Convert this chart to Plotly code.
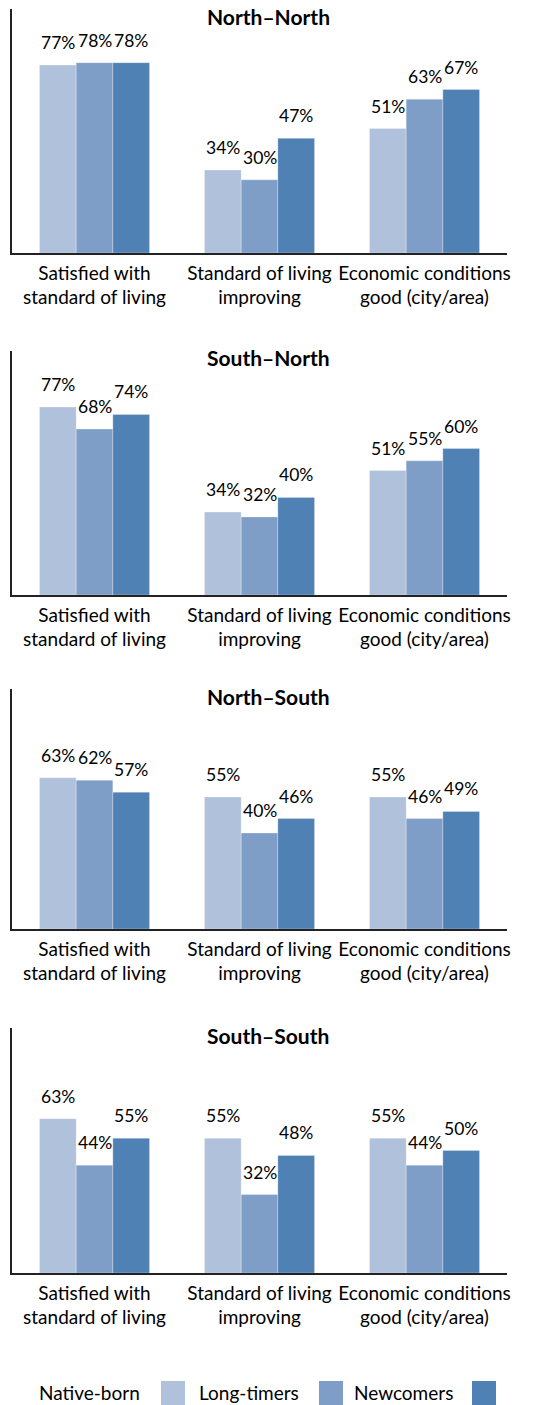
import plotly.graph_objects as go

# Data
categories = ["Satisfied with<br>standard of living",
              "Standard of living<br>improving",
              "Economic conditions<br>good (city/area)"]
panels = ["North\u2013North", "South\u2013North", "North\u2013South", "South\u2013South"]
groups = ["Native-born", "Long-timers", "Newcomers"]

native_born = [[77, 34, 51], [77, 34, 51], [63, 55, 55], [63, 55, 55]]
long_timers = [[78, 30, 63], [68, 32, 55], [62, 40, 46], [44, 32, 44]]
newcomers = [[78, 47, 67], [74, 40, 60], [57, 46, 49], [55, 48, 50]]

colors = ["#B0C1DC", "#7F9EC7", "#4F81B5"]

W, H = 542, 1405
L, R = 12, 35
FONT = "Lato"
BARGAP = 0.333

# pixel layout of each panel (top of y axis, baseline)
tops = [9, 351, 689, 1028]
bottoms = [253, 595, 929, 1273]


def py(p):
    return 1 - p / H


def px(p):
    return (p - L) / (W - L - R)


fig = go.Figure()
annotations = []
shapes = []
bar_w = (1 - BARGAP) / 3  # width of one bar in category units

for i, name in enumerate(panels):
    n = "" if i == 0 else str(i + 1)
    series = [native_born[i], long_timers[i], newcomers[i]]
    for g, vals in enumerate(series):
        fig.add_trace(go.Bar(
            x=categories, y=vals, name=groups[g],
            marker=dict(color=colors[g], line=dict(width=0.8, color="rgba(255,255,255,0.35)")),
            xaxis="x" + n, yaxis="y" + n, showlegend=False, hoverinfo="skip",
        ))
        # value labels sit a little higher above the bars than plotly's outside text
        for c, v in enumerate(vals):
            annotations.append(dict(
                text=f"{v}%", x=c + (g - 1) * bar_w, y=v, xref="x" + n, yref="y" + n,
                xanchor="center", yanchor="bottom", yshift=10, showarrow=False,
                font=dict(family=FONT, size=17.5, color="#000"),
            ))
    fig.layout["xaxis" + n] = dict(
        domain=[0, 1], anchor="y" + n, showline=True, linecolor="#222", linewidth=1.5,
        ticks="", showgrid=False, tickfont=dict(family=FONT, size=19, color="#000"),
        ticklabelstandoff=2, fixedrange=True,
    )
    fig.layout["yaxis" + n] = dict(
        domain=[py(bottoms[i]), py(tops[i])], anchor="x" + n, range=[0, 100],
        showline=True, linecolor="#222", linewidth=1.5, showgrid=False,
        showticklabels=False, ticks="", zeroline=False, fixedrange=True,
    )
    annotations.append(dict(
        text=f"<b>{name}</b>", x=px(268), y=py(tops[i] + 7), xref="paper", yref="paper",
        xanchor="center", yanchor="middle", showarrow=False,
        font=dict(family=FONT, size=21, color="#000"),
    ))

# legend: label followed by swatch
legend_text_right = [142, 301, 455]
legend_swatch_left = [161, 319, 472]
for g in range(3):
    annotations.append(dict(
        text=groups[g], x=px(legend_text_right[g]), y=py(1392), xref="paper", yref="paper",
        xanchor="right", yanchor="middle", showarrow=False,
        font=dict(family=FONT, size=19, color="#000"),
    ))
    shapes.append(dict(
        type="rect", xref="paper", yref="paper",
        x0=px(legend_swatch_left[g]), x1=px(legend_swatch_left[g] + 24),
        y0=py(1381), y1=py(1405), fillcolor=colors[g], line=dict(width=0),
    ))

fig.update_layout(
    width=W, height=H,
    margin=dict(l=L, r=R, t=0, b=0),
    plot_bgcolor="white", paper_bgcolor="white",
    barmode="group", bargap=BARGAP, bargroupgap=0,
    annotations=annotations, shapes=shapes,
    showlegend=False,
)

fig.write_html("out.html", config={"displayModeBar": False},
               post_script="document.body.style.margin='0';")
